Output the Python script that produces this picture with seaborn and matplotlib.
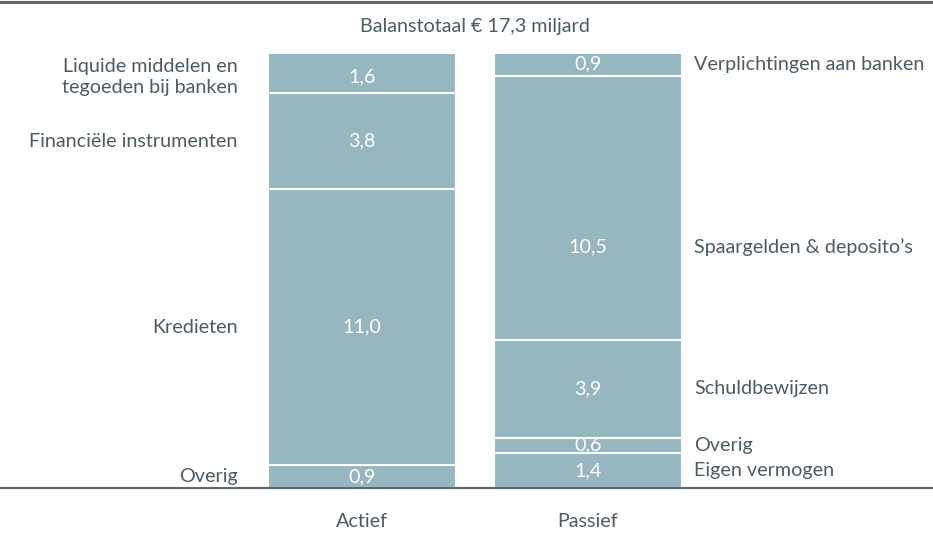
import matplotlib
matplotlib.use("Agg")
import matplotlib.pyplot as plt
from matplotlib.lines import Line2D
import seaborn as sns

# balance sheet, bottom to top, in billions of euro
actief_labels = ["Overig", "Kredieten", "Financiële instrumenten",
                 "Liquide middelen en\ntegoeden bij banken"]
actief_values = [0.9, 11.0, 3.8, 1.6]
passief_labels = ["Eigen vermogen", "Overig", "Schuldbewijzen",
                  "Spaargelden & deposito’s", "Verplichtingen aan banken"]
passief_values = [1.4, 0.6, 3.9, 10.5, 0.9]
columns = ["Actief", "Passief"]
title = "Balanstotaal € 17,3 miljard"

bar_color = "#96b6c0"
text_color = "#4e5b63"
line_color = "#5d6870"
fs = 14.2

sns.set_theme(style="white")
plt.rcParams["font.family"] = ["Lato", "DejaVu Sans"]

fig = plt.figure(figsize=(9.33, 5.34), dpi=100)
ax = fig.add_axes([0, 46 / 534, 1, 435 / 534])

width = 0.832
# some labels sit off the middle of their block
label_shift = {("Passief", 3): -1.55, ("Actief", 3): -0.15}

for i, (col, labels, values) in enumerate([(columns[0], actief_labels, actief_values),
                                           (columns[1], passief_labels, passief_values)]):
    bottom = 0.0
    for j, (lab, val) in enumerate(zip(labels, values)):
        ax.bar(i, val, bottom=bottom, width=width, color=bar_color,
               edgecolor="white", linewidth=1.5)
        yc = bottom + val / 2 + label_shift.get((col, j), 0)
        ax.text(i, yc, f"{val:.1f}".replace(".", ","), color="white",
                ha="center", va="center", fontsize=fs)
        if i == 0:
            ax.text(-0.55, yc, lab, color=text_color, ha="right", va="center",
                    fontsize=fs, linespacing=1.3)
        else:
            ax.text(1.47, yc, lab, color=text_color, ha="left", va="center",
                    fontsize=fs)
        bottom += val

ax.text(0.5, 18.35, title, color=text_color, ha="center", va="center",
        fontsize=fs, clip_on=False)

ax.set_xlim(-362 / 226, (933 - 362) / 226)
ax.set_ylim(0, 17.3)
ax.set_xticks([0, 1])
ax.set_xticklabels(columns, color=text_color, fontsize=fs)
ax.tick_params(axis="x", length=0, pad=18)
ax.set_yticks([])
for side in ["top", "left", "right"]:
    ax.spines[side].set_visible(False)
ax.spines["bottom"].set_color(line_color)
ax.spines["bottom"].set_linewidth(1.5)
ax.patch.set_alpha(0)

fig.add_artist(Line2D([0, 1], [1 - 2 / 534, 1 - 2 / 534], color=line_color,
                      linewidth=2.2, transform=fig.transFigure))

fig.savefig("out.png", dpi=100, facecolor="white")
